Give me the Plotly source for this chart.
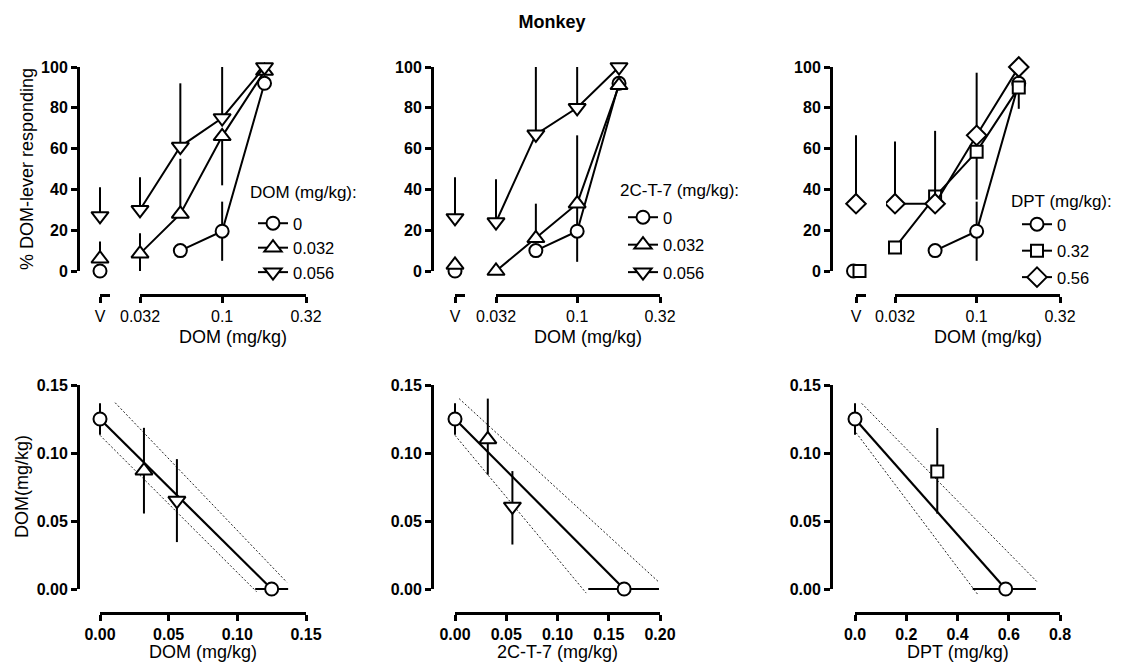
import plotly.graph_objects as go
import math

# ---------------- data ----------------
doses = [0.032, 0.056, 0.1, 0.18]          # DOM test doses (mg/kg)
dose_tickvals = [0.032, 0.1, 0.32]
dose_ticktext = ["0.032", "0.1", "0.32"]

# Panel A: DOM pretreatment
a_title = "DOM (mg/kg):"
a_names = ["0", "0.032", "0.056"]
a_v = [0, 6, 27]
a_v_up = [0, 8.5, 14]
a_y = [[None, 10, 19.5, 92], [8.5, 28, 66, 98], [30, 61, 75, 100]]
a_up = [[0, 0, 14.5, 0], [10, 27, 0, 0], [16, 31, 25, 0]]
a_dn = [[0, 0, 14.5, 0], [8.5, 0, 24, 0], [0, 0, 0, 0]]

# Panel B: 2C-T-7 pretreatment
b_title = "2C-T-7 (mg/kg):"
b_names = ["0", "0.032", "0.056"]
b_v = [0, 3, 26]
b_v_up = [0, 0, 20]
b_y = [[None, 10, 19.5, 92], [0, 16, 33, 91], [24, 67, 80, 100]]
b_up = [[0, 0, 14.5, 0], [0, 17, 33.5, 0], [21, 33, 20, 0]]
b_dn = [[0, 0, 15, 0], [0, 0, 0, 0], [0, 0, 0, 0]]

# Panel C: DPT pretreatment
c_title = "DPT (mg/kg):"
c_names = ["0", "0.32", "0.56"]
c_v = [0, 0, 33]
c_v_up = [0, 0, 33.5]
c_y = [[None, 10, 19.5, 92], [11.5, 36.5, 58.5, 90], [33, 33, 66.5, 100]]
c_up = [[0, 0, 14.5, 0], [0, 0, 0, 0], [30.5, 35.7, 30.7, 0]]
c_dn = [[0, 0, 14.5, 0], [0, 0, 23.5, 10.5], [0, 0, 0, 0]]

# Isobolograms
iso_dom_x = [0, 0.032, 0.056, 0.125]
iso_dom_y = [0.125, 0.087, 0.065, 0]
iso_dom_yerr = [0.0115, 0.0315, 0.0305, 0]
iso_dom_xerr = [0, 0, 0, 0.012]
iso_dom_add_x = [0, 0.125]
iso_dom_add_y = [0.125, 0]
iso_dom_hi_x = [0.011, 0.136]
iso_dom_hi_y = [0.137, 0.005]
iso_dom_lo_x = [0, 0.114]
iso_dom_lo_y = [0.113, -0.002]

iso_ct_x = [0, 0.032, 0.056, 0.165]
iso_ct_y = [0.125, 0.110, 0.0607, 0]
iso_ct_yerr_up = [0.0115, 0.030, 0.026, 0]
iso_ct_yerr_dn = [0.0115, 0.026, 0.028, 0]
iso_ct_xerr_up = [0, 0, 0, 0.034]
iso_ct_xerr_dn = [0, 0, 0, 0.035]
iso_ct_add_x = [0, 0.165]
iso_ct_add_y = [0.125, 0]
iso_ct_hi_x = [0.004, 0.199]
iso_ct_hi_y = [0.140, 0.005]
iso_ct_lo_x = [0, 0.128]
iso_ct_lo_y = [0.113, -0.003]

iso_dpt_x = [0, 0.321, 0.588]
iso_dpt_y = [0.125, 0.0864, 0]
iso_dpt_yerr_up = [0.0115, 0.032, 0]
iso_dpt_yerr_dn = [0.0115, 0.031, 0]
iso_dpt_xerr_up = [0, 0, 0.118]
iso_dpt_xerr_dn = [0, 0, 0.129]
iso_dpt_add_x = [0, 0.588]
iso_dpt_add_y = [0.125, 0]
iso_dpt_hi_x = [0.026, 0.709]
iso_dpt_hi_y = [0.1365, 0.0056]
iso_dpt_lo_x = [0.004, 0.479]
iso_dpt_lo_y = [0.115, -0.004]

# ---------------- layout helpers ----------------
W, H = 1126, 665
def px(x): return x / W
def py(y): return 1 - y / H

FONT = "Liberation Sans, Arial, sans-serif"
BLACK = "black"
TICKFONT = dict(family=FONT, size=16, color=BLACK)
TITLEFONT = dict(family=FONT, size=18, color=BLACK)
LEGFONT = dict(family=FONT, size=16.5, color=BLACK)
PAD = 20

def marker(sym, size):
    return dict(symbol=sym, size=size, color="white", opacity=1,
                line=dict(color=BLACK, width=2))

def ebar(up, dn):
    return dict(type="data", symmetric=False, array=up, arrayminus=dn,
                width=0, thickness=2, color=BLACK)

axis_common = dict(showgrid=False, zeroline=False, showline=True, linecolor=BLACK,
                   linewidth=3, ticks="outside", ticklen=6, tickwidth=2.5,
                   tickcolor=BLACK, tickfont=TICKFONT, anchor="free", automargin=False,
                   tickprefix="<b>", ticksuffix="</b>")

layout_axes = {}
counter = {"x": 0, "y": 0}

def new_axis(kind, spec):
    counter[kind] += 1
    n = counter[kind]
    key = f"{kind}axis" if n == 1 else f"{kind}axis{n}"
    layout_axes[key] = spec
    return kind if n == 1 else f"{kind}{n}"

def display_x(dom_px, rng, pos_py, **kw):
    return new_axis("x", dict(axis_common, domain=[px(dom_px[0]), px(dom_px[1])],
                              range=rng, position=py(pos_py), **kw))

def display_y(dom_py, rng, pos_px, **kw):
    return new_axis("y", dict(axis_common, domain=[py(dom_py[1]), py(dom_py[0])],
                              range=rng, position=px(pos_px), **kw))

def data_x(dom_px, rng, typ="linear"):
    s = (rng[1] - rng[0]) / (dom_px[1] - dom_px[0])
    return new_axis("x", dict(visible=False, anchor="free", position=0, type=typ,
                              automargin=False,
                              domain=[px(dom_px[0] - PAD), px(dom_px[1] + PAD)],
                              range=[rng[0] - PAD * s, rng[1] + PAD * s]))

def data_y(dom_py, rng):
    s = (rng[1] - rng[0]) / (dom_py[1] - dom_py[0])
    return new_axis("y", dict(visible=False, anchor="free", position=0,
                              automargin=False,
                              domain=[py(dom_py[1] + PAD), py(dom_py[0] - PAD)],
                              range=[rng[0] - PAD * s, rng[1] + PAD * s]))

def placeholder(xa, ya):
    fig.add_trace(go.Scatter(x=[None], y=[None], xaxis=xa, yaxis=ya, mode="markers",
                             showlegend=False, hoverinfo="skip"))

fig = go.Figure()
annotations = []

# ---------------- top row: dose-response ----------------
top_geom = [
    dict(yx=78, v=(100, 110), main=(140, 306)),
    dict(yx=432, v=(455, 465), main=(496, 660)),
    dict(yx=831, v=(856, 866), main=(895, 1060)),
]
TOP_Y = (67, 271)
TOP_XPOS = 295
top_syms = [
    [("circle", 13), ("triangle-up", 15), ("triangle-down", 15)],
    [("circle", 13), ("triangle-up", 15), ("triangle-down", 15)],
    [("circle", 13), ("square", 12), ("diamond", 15)],
]
v_shift = [[0, 0, 0], [0, 0, 0], [-0.25, 0.35, 0]]
panels = [
    (a_names, a_v, a_v_up, a_y, a_up, a_dn, a_title),
    (b_names, b_v, b_v_up, b_y, b_up, b_dn, b_title),
    (c_names, c_v, c_v_up, c_y, c_up, c_dn, c_title),
]
legend_pos = [(253, 206), (623, 200), (1017, 207)]     # legend box top-left (px)
legend_gap = [0, 3, 2]
legend_title_pos = [(248, 192), (618, 190), (1009, 201)]
log_rng = [math.log10(dose_tickvals[0]), math.log10(dose_tickvals[-1])]

for p, (names, vv, vup, ys, ups, dns, ltitle) in enumerate(panels):
    g = top_geom[p]
    leg = "legend" if p == 0 else f"legend{p+1}"
    # display axes
    yd = display_y(TOP_Y, [0, 100], g["yx"], dtick=20)
    xm = display_x(g["main"], log_rng, TOP_XPOS, type="log",
                   tickvals=dose_tickvals, ticktext=dose_ticktext)
    xv = display_x(g["v"], [0, 1], TOP_XPOS, tickvals=[0], ticktext=["V"])
    placeholder(xm, yd)
    placeholder(xv, yd)
    # data axes (wider, invisible, same scale)
    ydd = data_y(TOP_Y, [0, 100])
    xmd = data_x(g["main"], log_rng, typ="log")
    xvd = data_x(g["v"], [0, 1])
    for i in range(3):
        sym, sz = top_syms[p][i]
        fig.add_trace(go.Scatter(
            x=[v_shift[p][i]], y=[vv[i]], mode="markers",
            marker=marker(sym, sz), error_y=ebar([vup[i]], [0]),
            xaxis=xvd, yaxis=ydd, showlegend=False, hoverinfo="skip"))
        fig.add_trace(go.Scatter(
            x=doses, y=ys[i], mode="lines+markers", name=names[i],
            marker=marker(sym, sz), line=dict(color=BLACK, width=2),
            error_y=ebar(ups[i], dns[i]), xaxis=xmd, yaxis=ydd, legend=leg,
            legendgroup=f"g{p}{i}"))
    layout_axes[leg] = dict(x=px(legend_pos[p][0]), y=py(legend_pos[p][1]),
                            xanchor="left", yanchor="top", bgcolor="rgba(0,0,0,0)",
                            font=LEGFONT, itemwidth=30, tracegroupgap=legend_gap[p])
    annotations.append(dict(x=px(legend_title_pos[p][0]), y=py(legend_title_pos[p][1]),
                            xref="paper", yref="paper", text=ltitle, showarrow=False,
                            font=dict(LEGFONT, size=17), xanchor="left",
                            yanchor="middle"))
    annotations.append(dict(x=px((g["main"][0] + g["main"][1]) / 2 + 10), y=py(337),
                            xref="paper", yref="paper", text="DOM (mg/kg)",
                            showarrow=False, font=TITLEFONT,
                            xanchor="center", yanchor="middle"))

annotations.append(dict(x=px(27), y=py((TOP_Y[0] + TOP_Y[1]) / 2), xref="paper",
                        yref="paper", text="% DOM-lever responding", textangle=-90,
                        showarrow=False, font=TITLEFONT, xanchor="center",
                        yanchor="middle"))

# ---------------- bottom row: isobolograms ----------------
BOT_Y = (385, 589)
BOT_XPOS = 613
bot_geom = [
    dict(yx=78, x=(100, 306), rng=[0, 0.15], dtick=0.05, fmt=".2f", title="DOM (mg/kg)"),
    dict(yx=432, x=(455, 660), rng=[0, 0.2], dtick=0.05, fmt=".2f", title="2C-T-7 (mg/kg)"),
    dict(yx=831, x=(855, 1060), rng=[0, 0.8], dtick=0.2, fmt=".1f", title="DPT (mg/kg)"),
]
iso = [
    (iso_dom_x, iso_dom_y, iso_dom_yerr, iso_dom_yerr, iso_dom_xerr, iso_dom_xerr,
     iso_dom_add_x, iso_dom_add_y, iso_dom_hi_x, iso_dom_hi_y, iso_dom_lo_x, iso_dom_lo_y,
     ["circle", "triangle-up", "triangle-down", "circle"], [13, 15, 15, 13]),
    (iso_ct_x, iso_ct_y, iso_ct_yerr_up, iso_ct_yerr_dn, iso_ct_xerr_up, iso_ct_xerr_dn,
     iso_ct_add_x, iso_ct_add_y, iso_ct_hi_x, iso_ct_hi_y, iso_ct_lo_x, iso_ct_lo_y,
     ["circle", "triangle-up", "triangle-down", "circle"], [13, 15, 15, 13]),
    (iso_dpt_x, iso_dpt_y, iso_dpt_yerr_up, iso_dpt_yerr_dn, iso_dpt_xerr_up, iso_dpt_xerr_dn,
     iso_dpt_add_x, iso_dpt_add_y, iso_dpt_hi_x, iso_dpt_hi_y, iso_dpt_lo_x, iso_dpt_lo_y,
     ["circle", "square", "circle"], [13, 12, 13]),
]
for q, (x, y, eyu, eyd, exu, exd, ax, ay, hx, hy, lx, ly, syms, sizes) in enumerate(iso):
    g = bot_geom[q]
    yd = display_y(BOT_Y, [0, 0.15], g["yx"], dtick=0.05, tickformat=".2f")
    xd = display_x(g["x"], g["rng"], BOT_XPOS, dtick=g["dtick"], tickformat=g["fmt"])
    placeholder(xd, yd)
    ydd = data_y(BOT_Y, [0, 0.15])
    xdd = data_x(g["x"], g["rng"])
    for cx, cy in ((hx, hy), (lx, ly)):
        fig.add_trace(go.Scatter(x=cx, y=cy, mode="lines", xaxis=xdd, yaxis=ydd,
                                 line=dict(color="#222", width=1, dash="2px,2px"),
                                 showlegend=False, hoverinfo="skip"))
    fig.add_trace(go.Scatter(x=ax, y=ay, mode="lines", xaxis=xdd, yaxis=ydd,
                             line=dict(color=BLACK, width=2.2), showlegend=False))
    fig.add_trace(go.Scatter(
        x=x, y=y, mode="markers", xaxis=xdd, yaxis=ydd,
        marker=dict(symbol=syms, size=sizes, color="white", opacity=1,
                    line=dict(color=BLACK, width=2)),
        error_y=ebar(eyu, eyd), error_x=ebar(exu, exd), showlegend=False))
    annotations.append(dict(x=px((g["x"][0] + g["x"][1]) / 2), y=py(652), xref="paper",
                            yref="paper", text=g["title"], showarrow=False,
                            font=TITLEFONT, xanchor="center", yanchor="middle"))

annotations.append(dict(x=px(22), y=py((BOT_Y[0] + BOT_Y[1]) / 2), xref="paper",
                        yref="paper", text="DOM(mg/kg)", textangle=-90,
                        showarrow=False, font=TITLEFONT, xanchor="center",
                        yanchor="middle"))

fig.update_layout(**layout_axes)
fig.update_layout(
    width=W, height=H, margin=dict(l=0, r=0, t=0, b=0, autoexpand=False),
    paper_bgcolor="white", plot_bgcolor="white",
    title=dict(text="<b>Monkey</b>", x=px(552), y=py(22), xanchor="center",
               yanchor="middle", font=dict(family=FONT, size=18, color=BLACK)),
    font=dict(family=FONT, color=BLACK),
    annotations=annotations,
)

fig.write_html("out.html", config={"displayModeBar": False},
               post_script="document.body.style.margin='0px';"
                           "document.body.style.overflow='hidden';")
